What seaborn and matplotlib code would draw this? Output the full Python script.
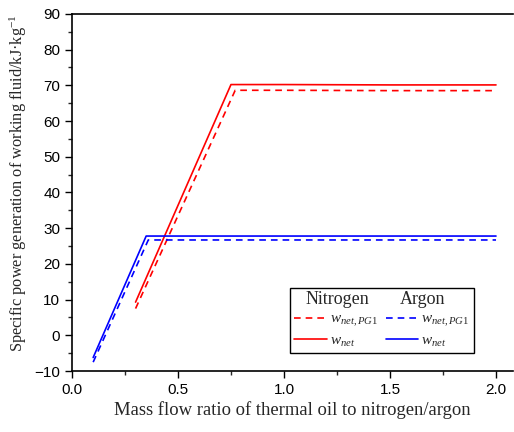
import matplotlib
matplotlib.use("Agg")
import matplotlib.pyplot as plt
from matplotlib.lines import Line2D
import seaborn as sns
import pandas as pd

# Data
n_x = [0.30, 0.75, 1.0, 1.5, 2.0]
n_wnet = [9.3, 70.2, 70.2, 70.1, 70.1]
n_x_pg1 = [0.30, 0.77, 1.0, 1.5, 2.0]
n_wpg1 = [7.5, 68.6, 68.6, 68.5, 68.5]

a_x = [0.10, 0.35, 1.0, 1.5, 2.0]
a_wnet = [-6.2, 27.8, 27.8, 27.8, 27.8]
a_x_pg1 = [0.10, 0.36, 1.0, 1.5, 2.0]
a_wpg1 = [-7.5, 26.7, 26.7, 26.7, 26.7]

xticks = [0.0, 0.5, 1.0, 1.5, 2.0]
yticks = [-10, 0, 10, 20, 30, 40, 50, 60, 70, 80, 90]

rows = []
for xs, ys, key in [(n_x, n_wnet, "N_net"), (n_x_pg1, n_wpg1, "N_pg1"),
                    (a_x, a_wnet, "A_net"), (a_x_pg1, a_wpg1, "A_pg1")]:
    for x, y in zip(xs, ys):
        rows.append({"x": x, "y": y, "series": key})
df = pd.DataFrame(rows)

sns.set_style("ticks")
plt.rcParams["font.family"] = ["Liberation Sans", "DejaVu Sans"]
plt.rcParams["mathtext.fontset"] = "custom"
plt.rcParams["mathtext.rm"] = "Liberation Serif"
plt.rcParams["mathtext.it"] = "Liberation Serif:italic"
plt.rcParams["mathtext.bf"] = "Liberation Serif:bold"

fig = plt.figure(figsize=(5.14, 4.32), dpi=100)
ax = fig.add_axes([0.140, 0.141, 0.858, 0.827])

palette = {"N_net": "#ff0000", "N_pg1": "#ff0000", "A_net": "#0000ff", "A_pg1": "#0000ff"}
dashes = {"N_net": "", "N_pg1": (4, 3), "A_net": "", "A_pg1": (4, 3)}
sns.lineplot(data=df, x="x", y="y", hue="series", style="series",
             palette=palette, dashes=dashes, linewidth=1.2, ax=ax,
             legend=False, sort=False, estimator=None)

ax.set_xlim(0, 2.08)
ax.set_ylim(-10, 90)
ax.set_xticks(xticks)
ax.set_xticklabels([f"{v:.1f}" for v in xticks])
ax.set_yticks(yticks)
ax.set_xticks([0.25, 0.75, 1.25, 1.75], minor=True)
ax.set_yticks([-5 + 10 * i for i in range(10)], minor=True)
ax.tick_params(which="major", direction="out", length=5, width=1, labelsize=11, colors="black")
ax.tick_params(which="minor", direction="out", length=3, width=1)
for s in ["left", "bottom", "top"]:
    ax.spines[s].set_linewidth(1.2)
    ax.spines[s].set_color("black")
ax.spines["right"].set_visible(False)

ax.set_xlabel("Mass flow ratio of thermal oil to nitrogen/argon",
              fontfamily="Liberation Serif", fontsize=13.4, labelpad=3)
ax.set_ylabel("Specific power generation of working fluid/kJ·kg$^{-1}$",
              fontfamily="Liberation Serif", fontsize=11.8)
ax.yaxis.set_label_coords(-0.098, 0.525)

blank = Line2D([], [], linestyle="none")
handles = [blank,
           Line2D([], [], color="#ff0000", lw=1.2, dashes=(4, 3)),
           Line2D([], [], color="#ff0000", lw=1.2),
           blank,
           Line2D([], [], color="#0000ff", lw=1.2, dashes=(4, 3)),
           Line2D([], [], color="#0000ff", lw=1.2)]
labels = ["$w_{net}$", "$w_{net,PG1}$", "$w_{net}$", "$w_{net}$", "$w_{net,PG1}$", "$w_{net}$"]
leg = ax.legend(handles, labels, ncol=2, loc="lower right",
                bbox_to_anchor=(0.912, 0.05), borderaxespad=0,
                frameon=True, fancybox=False, edgecolor="black", framealpha=1,
                handlelength=2.1, handletextpad=0.25, columnspacing=0.45,
                labelspacing=0.32, borderpad=0.28, prop={"size": 11})
leg.get_frame().set_linewidth(1.0)
# header rows are placeholders; hide their text
leg.get_texts()[0].set_alpha(0)
leg.get_texts()[3].set_alpha(0)

ax.text(0.603, 0.201, "Nitrogen", transform=ax.transAxes, ha="center", va="center",
        fontfamily="Liberation Serif", fontsize=13, zorder=10)
ax.text(0.794, 0.201, "Argon", transform=ax.transAxes, ha="center", va="center",
        fontfamily="Liberation Serif", fontsize=13, zorder=10)

fig.savefig("out.png", dpi=100)
